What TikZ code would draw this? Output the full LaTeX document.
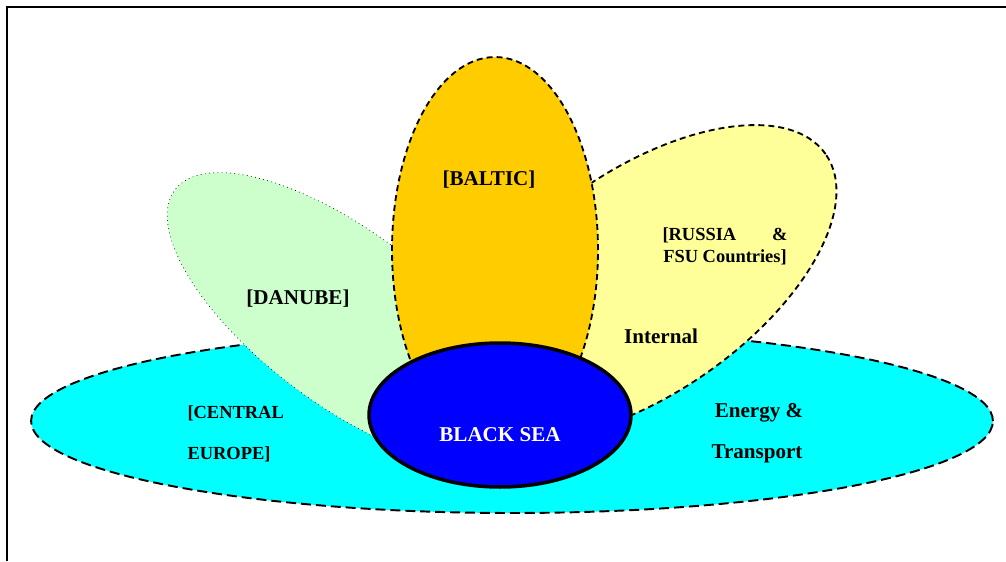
\documentclass[tikz,border=0pt]{standalone}
\usepackage{fontspec}
\setmainfont{Liberation Serif}
\usetikzlibrary{shapes.geometric}

\definecolor{seacyan}{RGB}{0,255,255}
\definecolor{danubegreen}{RGB}{204,255,204}
\definecolor{balticorange}{RGB}{255,204,0}
\definecolor{russiayellow}{RGB}{255,255,153}
\definecolor{blackseablue}{RGB}{0,0,255}

\begin{document}
\begin{tikzpicture}[x=0.02cm,y=-0.02cm,semithick]
  \tikzstyle{region}=[ellipse,draw=black,inner sep=0pt]
  \tikzstyle{longdash}=[dash pattern=on 5.7pt off 2.8pt,line width=1.1pt]
  \tikzstyle{shortdash}=[dash pattern=on 3.4pt off 2.3pt,line width=1.05pt]
  \tikzstyle{big}=[inner sep=0pt,font=\fontsize{12}{14}\selectfont\bfseries]
  \tikzstyle{small}=[inner sep=0pt,font=\fontsize{10.5}{12.5}\selectfont\bfseries]

  \useasboundingbox (0,0) rectangle (1006,561);
  \draw[line width=1.2pt] (7,561) -- (7,7) -- (1006,7);

  % the regions, back to front
  \node[region,fill=seacyan,longdash,minimum width=19.24cm,minimum height=3.68cm]
       (europe) at (512,421) {};
  \node[region,fill=danubegreen,dotted,thin,rotate=-37,minimum width=8.52cm,minimum height=3.44cm]
       (danube) at (345,318) {};
  \node[region,fill=russiayellow,shortdash,rotate=35,minimum width=8.92cm,minimum height=4.44cm]
       (russia) at (643,282) {};
  \node[region,fill=balticorange,shortdash,minimum width=4.12cm,minimum height=7.72cm]
       (baltic) at (495,250) {};
  \node[region,fill=blackseablue,line width=2pt,minimum width=5.24cm,minimum height=2.88cm]
       (blacksea) at (500,415) {};

  % labels
  \node[big]                (lbaltic)   at (489,180) {[BALTIC]};
  \node[big]                (ldanube)   at (298,299) {[DANUBE]};
  \node[small,align=center] (lrussia)   at (725,246)
       {\makebox[2.5cm][s]{[RUSSIA\hfill\&}\\FSU Countries]};
  \node[big]                (linternal) at (661,336) {Internal};
  \node[small,anchor=west]  (lcentral)  at (187,413) {[CENTRAL};
  \node[small,anchor=west]  (leurope)   at (187,454) {EUROPE]};
  \node[big]                (lenergy)   at (759,413) {Energy \&};
  \node[big]                (ltransp)   at (757,454) {Transport};
  \node[big,text=white]     (lsea)      at (500,435) {BLACK SEA};
\end{tikzpicture}
\end{document}
